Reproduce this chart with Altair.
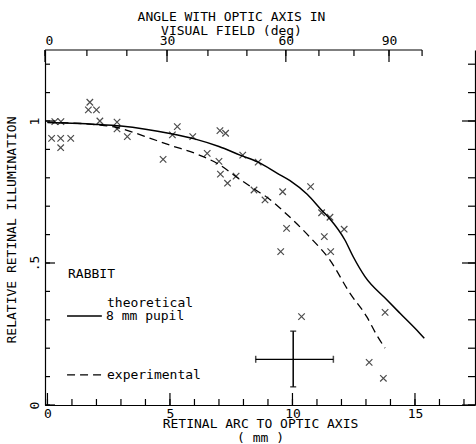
import altair as alt
import pandas as pd

FONT = "DejaVu Sans Mono"

# ---- data ----
theory_mm = [0, 1, 2, 3, 4, 5, 6, 7, 7.86, 8.6, 9.4, 9.9, 10.6, 11.2, 11.53, 12.14, 12.48, 12.96, 13.86, 14.39, 15.2, 15.38]
theory_rel = [0.995, 0.992, 0.988, 0.982, 0.971, 0.956, 0.937, 0.91, 0.88, 0.855, 0.815, 0.79, 0.742, 0.685, 0.655, 0.581, 0.522, 0.452, 0.37, 0.323, 0.252, 0.235]

exp_mm = [0, 1, 2, 2.8, 3.5, 4.2, 5, 6.2, 7, 7.7, 8.5, 9, 9.8, 10.7, 11.53, 12.35, 13.03, 13.44, 13.78]
exp_rel = [0.995, 0.993, 0.987, 0.978, 0.96, 0.939, 0.915, 0.88, 0.847, 0.804, 0.757, 0.729, 0.669, 0.592, 0.51, 0.393, 0.311, 0.246, 0.2]

pts_mm = [0.3, 0.55, 1.73, 1.67, 2.0, 2.14, 2.84, 2.84, 3.26, 0.17, 0.54, 0.95, 0.54,
          5.3, 5.1, 5.93, 7.04, 7.27, 4.72, 6.52, 7.0, 7.97, 8.6, 7.06, 7.7, 7.35,
          8.43, 8.88, 9.6, 10.74, 11.19, 11.53, 12.11, 9.76, 11.3, 11.56, 9.52,
          10.37, 13.78, 13.13, 13.71]
pts_rel = [0.998, 0.998, 1.066, 1.039, 1.039, 1.0, 0.996, 0.972, 0.945, 0.939, 0.939, 0.939, 0.906,
           0.98, 0.951, 0.945, 0.966, 0.957, 0.865, 0.886, 0.858, 0.88, 0.855, 0.813, 0.806, 0.781,
           0.757, 0.722, 0.751, 0.769, 0.677, 0.661, 0.619, 0.622, 0.593, 0.54, 0.54,
           0.311, 0.326, 0.15, 0.094]

# error cross
err_x, err_y = 10.03, 0.161
err_x_lo, err_x_hi = 8.5, 11.67
err_y_lo, err_y_hi = 0.064, 0.26

# ticks / labels
mm_ticks = [0, 1, 2, 3, 4, 5, 6, 7, 8, 9, 10, 11, 12, 13, 14, 15, 16, 17]
mm_major = [0, 5, 10, 15]
rel_ticks = [0, 0.1, 0.2, 0.3, 0.4, 0.5, 0.6, 0.7, 0.8, 0.9, 1.0, 1.1, 1.2]
rel_major = [0, 0.5, 1]
angle_deg = [0, 10, 20, 30, 40, 50, 60, 70, 80, 90, 100]
angle_mm = [-0.1, 1.61, 3.24, 4.88, 6.55, 8.14, 9.73, 11.08, 12.51, 13.94, 15.29]
angle_major = [0, 30, 60, 90]

# legend annotations
legend_text = ["RABBIT", "theoretical", "8 mm pupil", "experimental"]
legend_text_mm = [0.84, 2.43, 2.39, 2.43]
legend_text_rel = [0.461, 0.359, 0.313, 0.106]
legend_solid_mm = [0.8, 2.22]
legend_solid_rel = [0.313, 0.313]
legend_dash_mm = [0.8, 2.35]
legend_dash_rel = [0.106, 0.106]

W, H = 430, 355
xs = alt.Scale(domain=[-0.1, 17.45], nice=False, zero=False)
ys = alt.Scale(domain=[0, 1.25], nice=False, zero=False)


def X(field, axis=None):
    return alt.X(field, type="quantitative", scale=xs, axis=axis)


def Y(field, axis=None):
    return alt.Y(field, type="quantitative", scale=ys, axis=axis)


bottom_axis = alt.Axis(values=mm_major, format="d", ticks=False, labelPadding=2,
                       title=["RETINAL ARC TO OPTIC AXIS", "( mm )"], titlePadding=-3,
                       titleLineHeight=14)
left_axis = alt.Axis(values=rel_major, ticks=False, labelAngle=270, labelAlign="center",
                     labelBaseline="bottom", labelPadding=4,
                     labelExpr="datum.value == 0.5 ? '.5' : datum.value == 1 ? '1' : '0'",
                     title="RELATIVE RETINAL ILLUMINATION", titleX=-27, titleY=H / 2 + 2,
                     titleBaseline="bottom")

maj_mm = [angle_mm[angle_deg.index(a)] for a in angle_major]
lab_expr = "[" + ",".join("'%d'" % a for a in angle_major) + "][indexof([" + \
    ",".join(str(v) for v in maj_mm) + "], datum.value)]"
top_axis = alt.Axis(orient="top", values=maj_mm, labelExpr=lab_expr, ticks=False, domain=False,
                    labelPadding=3, title=["ANGLE WITH OPTIC AXIS IN", "VISUAL FIELD (deg)"],
                    titlePadding=-3, titleLineHeight=13.5, titleX=186, titleAlign="center")
right_axis = alt.Axis(orient="right", labels=False, ticks=False, title=None, domain=True)

df_pts = pd.DataFrame({"mm": pts_mm, "rel": pts_rel})
df_th = pd.DataFrame({"mm": theory_mm, "rel": theory_rel})
df_ex = pd.DataFrame({"mm": exp_mm, "rel": exp_rel})

points = alt.Chart(df_pts).mark_point(
    shape="M-1,-1L1,1M-1,1L1,-1", filled=False, stroke="black", strokeWidth=1.2, size=42
).encode(x=X("mm", bottom_axis), y=Y("rel", left_axis))

theory = alt.Chart(df_th).mark_line(color="black", strokeWidth=1.5, interpolate="monotone").encode(
    x=X("mm"), y=Y("rel"))
exper = alt.Chart(df_ex).mark_line(color="black", strokeWidth=1.3, strokeDash=[8, 5],
                                   interpolate="monotone").encode(x=X("mm"), y=Y("rel"))

# error cross
df_err_v = pd.DataFrame({"x": [err_x], "y": [err_y_lo], "y2": [err_y_hi]})
df_err_h = pd.DataFrame({"x": [err_x_lo], "x2": [err_x_hi], "y": [err_y]})
err_v = alt.Chart(df_err_v).mark_rule(color="black", strokeWidth=1.5).encode(
    x=X("x"), y=Y("y"), y2="y2")
err_h = alt.Chart(df_err_h).mark_rule(color="black", strokeWidth=1.2).encode(
    x=X("x"), x2="x2", y=Y("y"))
df_cap_v = pd.DataFrame({"x": [err_x, err_x], "y": [err_y_lo, err_y_hi]})
df_cap_h = pd.DataFrame({"x": [err_x_lo, err_x_hi], "y": [err_y, err_y]})
cap_v = alt.Chart(df_cap_v).mark_tick(orient="horizontal", color="black", size=6, thickness=1.5).encode(
    x=X("x"), y=Y("y"))
cap_h = alt.Chart(df_cap_h).mark_tick(orient="vertical", color="black", size=7, thickness=1.5).encode(
    x=X("x"), y=Y("y"))


# tick marks (inward)
def ticks_bottom(vals, ln):
    return alt.Chart(pd.DataFrame({"v": vals})).mark_rule(color="black", strokeWidth=1.2).encode(
        x=X("v"), y=alt.value(H), y2=alt.value(H - ln))


def ticks_top(vals, ln, axis=None):
    return alt.Chart(pd.DataFrame({"v": vals})).mark_rule(color="black", strokeWidth=1.2).encode(
        x=X("v", axis), y=alt.value(0), y2=alt.value(ln))


def ticks_left(vals, ln):
    return alt.Chart(pd.DataFrame({"v": vals})).mark_rule(color="black", strokeWidth=1.2).encode(
        y=Y("v"), x=alt.value(0), x2=alt.value(ln))


def ticks_right(vals, ln, axis=None):
    return alt.Chart(pd.DataFrame({"v": vals})).mark_rule(color="black", strokeWidth=1.2).encode(
        y=Y("v", axis), x=alt.value(W), x2=alt.value(W - ln))


top_line = alt.Chart(pd.DataFrame({"a": [angle_mm[0]], "b": [angle_mm[-1]]})).mark_rule(
    color="black", strokeWidth=1.2).encode(x=X("a"), x2="b", y=alt.value(0))

df_lt = pd.DataFrame({"mm": legend_text_mm, "rel": legend_text_rel, "t": legend_text})
leg_text = alt.Chart(df_lt).mark_text(align="left", baseline="middle", font=FONT, fontSize=13,
                                      color="black").encode(x=X("mm"), y=Y("rel"), text="t:N")
leg_solid = alt.Chart(pd.DataFrame({"mm": legend_solid_mm, "rel": legend_solid_rel})).mark_line(
    color="black", strokeWidth=1.5).encode(x=X("mm"), y=Y("rel"))
leg_dash = alt.Chart(pd.DataFrame({"mm": legend_dash_mm, "rel": legend_dash_rel})).mark_line(
    color="black", strokeWidth=1.3, strokeDash=[8, 5]).encode(x=X("mm"), y=Y("rel"))

chart = alt.layer(
    points, theory, exper, err_v, err_h, cap_v, cap_h,
    ticks_bottom(mm_ticks, 6), ticks_bottom(mm_major, 12),
    ticks_top(angle_mm, 6), ticks_top(maj_mm, 12, top_axis),
    ticks_left(rel_ticks, 5), ticks_left(rel_major, 10),
    ticks_right(rel_ticks, 7, right_axis), ticks_right(rel_major, 13),
    top_line, leg_text, leg_solid, leg_dash,
).resolve_scale(x="shared", y="shared").resolve_axis(x="independent", y="independent").properties(
    width=W, height=H, autosize=alt.AutoSizeParams(type="none"),
    padding={"left": 45, "top": 50, "right": 1, "bottom": 39},
).configure_view(stroke=None).configure_axis(
    domainColor="black", domainWidth=1.2, labelColor="black", titleColor="black",
    labelFont=FONT, titleFont=FONT, labelFontSize=13, titleFontSize=13,
    titleFontWeight="normal", grid=False,
)

chart.save("out.html", embed_options={"renderer": "svg", "actions": False})
